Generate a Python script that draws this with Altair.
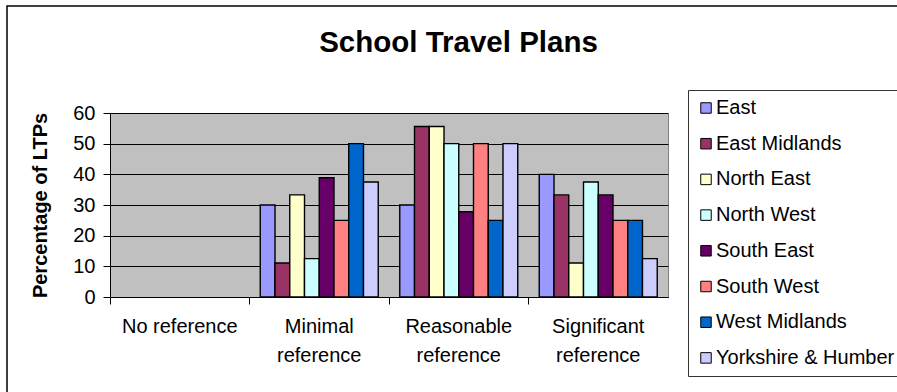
import altair as alt
import pandas as pd

categories = ["No reference", "Minimal reference", "Reasonable reference", "Significant reference"]
regions = ["East", "East Midlands", "North East", "North West", "South East",
           "South West", "West Midlands", "Yorkshire & Humber"]
colors = ["#9999FF", "#993366", "#FFFFCC", "#CCFFFF", "#660066",
          "#FF8080", "#0066CC", "#CCCCFF"]

east = [0, 30, 30, 40]
east_midlands = [0, 11.1, 55.6, 33.3]
north_east = [0, 33.3, 55.6, 11.1]
north_west = [0, 12.5, 50, 37.5]
south_east = [0, 38.9, 27.8, 33.3]
south_west = [0, 25, 50, 25]
west_midlands = [0, 50, 25, 25]
yorkshire = [0, 37.5, 50, 12.5]

series = [east, east_midlands, north_east, north_west, south_east,
          south_west, west_midlands, yorkshire]

rows = []
for reg, vals in zip(regions, series):
    for cat, v in zip(categories, vals):
        rows.append({"Category": cat, "Region": reg, "Value": v})
df = pd.DataFrame(rows)

FONT = "Liberation Sans"
W, H = 558, 184

bars = alt.Chart(df).transform_filter("datum.Value > 0").mark_bar(
    stroke="black", strokeWidth=1.4
).encode(
    x=alt.X("Category:N", sort=categories,
            scale=alt.Scale(domain=categories, paddingInner=0, paddingOuter=0),
            axis=alt.Axis(title=None, bandPosition=0,
                          labelExpr="datum.label == 'No reference' ? datum.label : split(datum.label, ' ')",
                          labelFontSize=20, labelLineHeight=29, labelPadding=12,
                          labelColor="black", labelAngle=0,
                          tickSize=7, tickColor="black", domainColor="black",
                          grid=False)),
    xOffset=alt.XOffset("Region:N", sort=regions,
                        scale=alt.Scale(domain=regions, paddingInner=0, paddingOuter=0.73)),
    y=alt.Y("Value:Q", scale=alt.Scale(domain=[0, 60], nice=False),
            axis=alt.Axis(title="Percentage of LTPs", values=[0, 10, 20, 30, 40, 50, 60],
                          labelFontSize=20, labelColor="black", labelPadding=8,
                          tickSize=7, tickColor="black", domainColor="black",
                          gridColor="black", gridWidth=1,
                          titleFontSize=20, titleFontWeight="bold", titleColor="black",
                          titleX=-70, titleY=H / 2, titleAngle=270,
                          titleAlign="center", titleBaseline="middle")),
    color=alt.Color("Region:N", sort=regions,
                    scale=alt.Scale(domain=regions, range=colors),
                    legend=alt.Legend(title=None, orient="none",
                                      legendX=578, legendY=-23,
                                      symbolType="square", symbolSize=110,
                                      symbolStrokeColor="black", symbolStrokeWidth=1,
                                      symbolOpacity=1,
                                      labelFontSize=20, labelColor="black",
                                      labelOffset=0, rowPadding=15.7,
                                      padding=8, strokeColor="#333333",
                                      fillColor="white", labelLimit=400)),
)

deco = pd.DataFrame({"title": ["School Travel Plans"]})

frame = alt.Chart(deco).mark_rect(
    fill=None, stroke="black", strokeWidth=1.5
).encode(
    x=alt.value(-103), x2=alt.value(800),
    y=alt.value(-107), y2=alt.value(300),
)

title = alt.Chart(deco).mark_text(
    fontSize=29.5, fontWeight="bold", font=FONT, color="black",
    align="center", baseline="alphabetic"
).encode(
    text="title:N",
    x=alt.value(348.5), y=alt.value(-61),
)

chart = alt.layer(frame, bars, title).properties(
    width=W, height=H,
    padding={"left": 110, "top": 113, "right": 229, "bottom": 95},
    autosize=alt.AutoSizeParams(type="none"),
).configure(font=FONT, background="white").configure_view(
    fill="#C0C0C0", stroke="#808080", strokeWidth=1
).configure_axis(labelFont=FONT, titleFont=FONT)

chart.save("out.html", embed_options={"renderer": "svg", "actions": False})
